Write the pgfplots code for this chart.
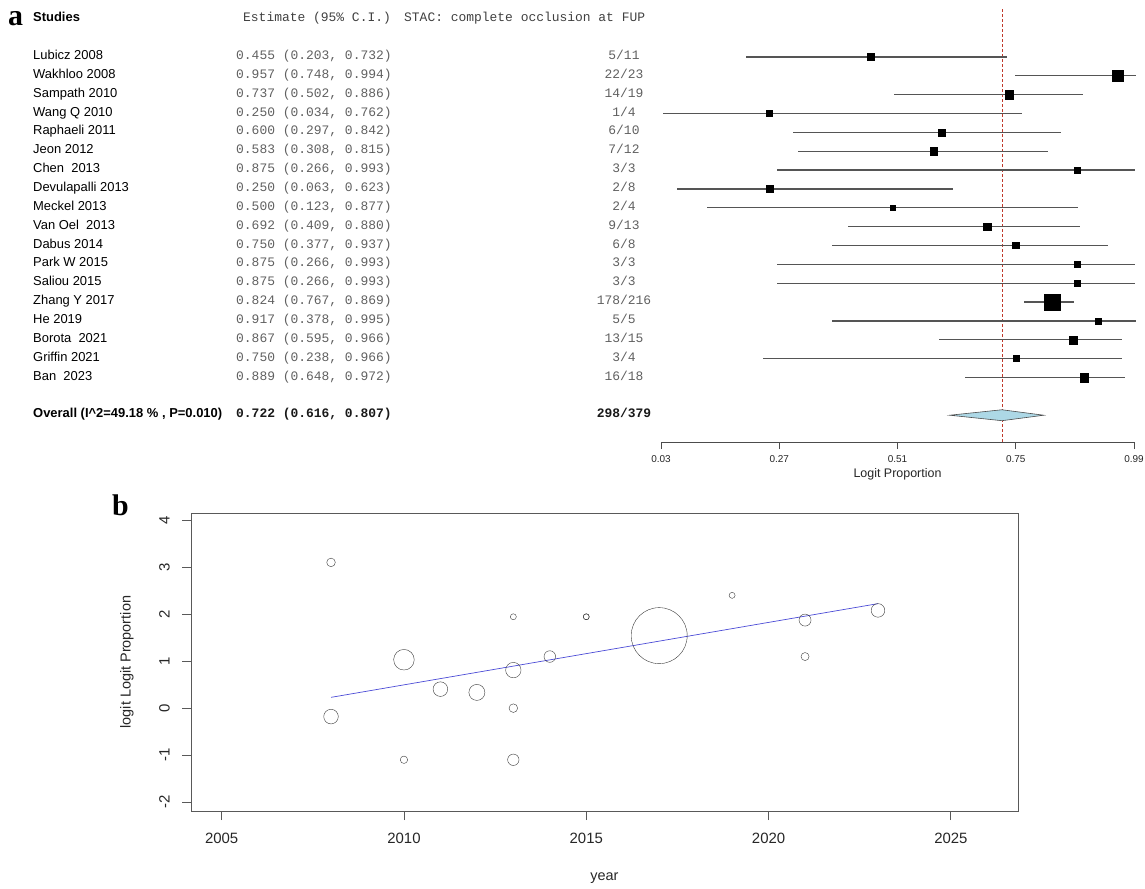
\documentclass[border=0pt]{standalone}
\usepackage{pgfplots}
\pgfplotsset{compat=1.18}
\usepackage{pgfplotstable}
\usepackage{fontspec}
\setmainfont{Liberation Sans}
\newfontfamily\monof{Liberation Mono}
\newfontfamily\seriff{Liberation Serif}
\definecolor{cigray}{HTML}{555555}
\definecolor{txtgray}{HTML}{606060}
\definecolor{refred}{HTML}{C0392B}
\definecolor{diamondblue}{HTML}{ADD8E6}
\definecolor{regblue}{HTML}{4B4BD6}
\definecolor{circgray}{HTML}{3A3A3A}
\newcommand\namefont{\fontsize{13}{15}\selectfont}
\newcommand\estfont{\monof\fontsize{13}{15}\selectfont}

% forest plot: row (negative), estimate, minus, plus, half side of square (bp)
\pgfplotstableread{
row est em ep sz
-1  0.455 0.252 0.277 3.5
-2  0.957 0.209 0.037 5.3
-3  0.737 0.235 0.149 4.3
-4  0.250 0.216 0.512 3.0
-5  0.600 0.303 0.242 3.6
-6  0.583 0.275 0.232 3.7
-7  0.875 0.609 0.118 3.0
-8  0.250 0.187 0.373 3.5
-9  0.500 0.377 0.377 2.8
-10 0.692 0.283 0.188 3.7
-11 0.750 0.373 0.187 3.2
-12 0.875 0.609 0.118 3.0
-13 0.875 0.609 0.118 3.0
-14 0.824 0.057 0.045 7.7
-15 0.917 0.539 0.078 3.2
-16 0.867 0.272 0.099 4.0
-17 0.750 0.512 0.216 3.0
-18 0.889 0.241 0.083 4.3
}\foresttab

% bubble plot: year, logit proportion, radius (bp)
\pgfplotstableread{
year logit r
2008 -0.180 7.3
2008 3.103 4.3
2010 1.031 10.3
2010 -1.099 3.7
2011 0.405 7.3
2012 0.335 8.0
2013 1.946 3.0
2013 -1.099 5.7
2013 0.000 4.3
2013 0.810 7.7
2014 1.099 5.8
2015 1.946 3.0
2015 1.946 3.0
2017 1.544 28.0
2019 2.402 3.0
2021 1.875 6.0
2021 1.099 4.0
2023 2.081 6.8
}\bubbletab

\newcommand\srow[4]{%
  \node[anchor=mid west,inner xsep=0pt,font=\namefont,text=black] at ([xshift=-628bp]axis cs:0.03,-#1) {#2};
  \node[anchor=mid west,inner xsep=0pt,font=\estfont,text=txtgray] at ([xshift=-425bp]axis cs:0.03,-#1) {#3};
  \node[anchor=mid,inner xsep=0pt,font=\estfont,text=txtgray] at ([xshift=-37bp]axis cs:0.03,-#1) {#4};
}

\begin{document}
\begin{tikzpicture}
\path[use as bounding box] (0,0) rectangle (1145bp,-889bp);

% panel labels
\node[anchor=base west,font=\seriff\bfseries\fontsize{30}{32}\selectfont,inner sep=0pt] at (8bp,-25bp) {a};
\node[anchor=base west,font=\seriff\bfseries\fontsize{30}{32}\selectfont,inner sep=0pt] at (112bp,-515bp) {b};

% ---------------- forest plot ----------------
\begin{axis}[
  at={(661bp,-9bp)}, anchor=north west,
  width=473bp, height=433bp, scale only axis,
  xmin=0.03, xmax=0.99, ymin=-21.42, ymax=1.54,
  axis x line=bottom, axis y line=none,
  axis line style={-, draw=black!70, line width=0.8bp},
  xtick={0.03,0.27,0.51,0.75,0.99},
  xticklabels={0.03,0.27,0.51,0.75,0.99},
  ytick=\empty,
  tick align=outside, major tick length=7bp,
  tick style={draw=black!70, line width=0.8bp},
  xticklabel style={font=\fontsize{10}{11}\selectfont, text=black!85, yshift=-3bp},
  clip=false,
]
\addplot[refred, line width=0.8bp, dash pattern=on 3bp off 2bp] coordinates {(0.722,1.54) (0.722,-21.42)};
\addplot[only marks, mark=none,
  error bars/.cd, x dir=both, x explicit, error mark=none,
  error bar style={draw=cigray, line width=1.2bp}]
  table[x=est, y=row, x error minus=em, x error plus=ep] {\foresttab};
\addplot[scatter, only marks, mark=square*,
  scatter/use mapped color={draw=black, fill=black},
  visualization depends on={\thisrow{sz}\as\msz},
  scatter/@pre marker code/.append style={/tikz/mark size=\msz bp, /tikz/line width=0pt}]
  table[x=est, y=row] {\foresttab};
\addplot[fill=diamondblue, draw=black!70, line width=0.6bp]
  coordinates {(0.616,-20) (0.722,-19.71) (0.807,-20) (0.722,-20.29)} -- cycle;

% header
\node[anchor=mid west,inner xsep=0pt,font=\namefont\bfseries] at ([xshift=-628bp]axis cs:0.03,1) {Studies};
\node[anchor=mid west,inner xsep=0pt,font=\estfont,text=black!75] at ([xshift=-418bp]axis cs:0.03,1) {Estimate (95\% C.I.)};
\node[anchor=mid west,inner xsep=0pt,font=\estfont,text=black!75] at ([xshift=-257bp]axis cs:0.03,1) {STAC: complete occlusion at FUP};

\srow{1}{Lubicz 2008}{0.455 (0.203, 0.732)}{5/11}
\srow{2}{Wakhloo 2008}{0.957 (0.748, 0.994)}{22/23}
\srow{3}{Sampath 2010}{0.737 (0.502, 0.886)}{14/19}
\srow{4}{Wang Q 2010}{0.250 (0.034, 0.762)}{1/4}
\srow{5}{Raphaeli 2011}{0.600 (0.297, 0.842)}{6/10}
\srow{6}{Jeon 2012}{0.583 (0.308, 0.815)}{7/12}
\srow{7}{Chen~ 2013}{0.875 (0.266, 0.993)}{3/3}
\srow{8}{Devulapalli 2013}{0.250 (0.063, 0.623)}{2/8}
\srow{9}{Meckel 2013}{0.500 (0.123, 0.877)}{2/4}
\srow{10}{Van Oel~ 2013}{0.692 (0.409, 0.880)}{9/13}
\srow{11}{Dabus 2014}{0.750 (0.377, 0.937)}{6/8}
\srow{12}{Park W 2015}{0.875 (0.266, 0.993)}{3/3}
\srow{13}{Saliou 2015}{0.875 (0.266, 0.993)}{3/3}
\srow{14}{Zhang Y 2017}{0.824 (0.767, 0.869)}{178/216}
\srow{15}{He 2019}{0.917 (0.378, 0.995)}{5/5}
\srow{16}{Borota~ 2021}{0.867 (0.595, 0.966)}{13/15}
\srow{17}{Griffin 2021}{0.750 (0.238, 0.966)}{3/4}
\srow{18}{Ban~ 2023}{0.889 (0.648, 0.972)}{16/18}

\node[anchor=mid west,inner xsep=0pt,font=\namefont\bfseries] at ([xshift=-628bp]axis cs:0.03,-20) {Overall (I\textasciicircum 2=49.18 \% , P=0.010)};
\node[anchor=mid west,inner xsep=0pt,font=\estfont\bfseries,text=black!90] at ([xshift=-425bp]axis cs:0.03,-20) {0.722 (0.616, 0.807)};
\node[anchor=mid,inner xsep=0pt,font=\estfont\bfseries,text=black!90] at ([xshift=-37bp]axis cs:0.03,-20) {298/379};

\node[font=\fontsize{12.5}{14}\selectfont, text=black!85] at ([yshift=-32bp]axis cs:0.51,-21.42) {Logit Proportion};
\end{axis}

% ---------------- bubble plot ----------------
\begin{axis}[
  at={(191bp,-811bp)}, anchor=south west,
  width=827bp, height=298bp, scale only axis,
  xmin=2004.16, xmax=2026.84, ymin=-2.19, ymax=4.155,
  xtick={2005,2010,2015,2020,2025},
  xticklabels={2005,2010,2015,2020,2025},
  ytick={-2,-1,0,1,2,3,4},
  yticklabels={-2,-1,0,1,2,3,4},
  tick pos=left, tick align=outside, major tick length=9bp,
  axis line style={draw=black!65, line width=0.9bp},
  tick style={draw=black!65, line width=0.9bp},
  ticklabel style={font=\fontsize{15}{17}\selectfont, text=black!85},
  xticklabel style={yshift=-10bp},
  yticklabel style={rotate=90, anchor=south, outer sep=9bp},
  clip=false,
]
\addplot[regblue, line width=0.7bp] coordinates {(2008,0.23) (2023,2.225)};
\addplot[scatter, only marks, mark=o,
  scatter/use mapped color={draw=circgray},
  visualization depends on={\thisrow{r}\as\rad},
  scatter/@pre marker code/.append style={/tikz/mark size=\rad bp, /tikz/line width=0.9bp}]
  table[x=year, y=logit] {\bubbletab};
\node[font=\fontsize{14.5}{16}\selectfont, text=black!85, rotate=90] at ([xshift=-64bp]axis cs:2004.16,0.98) {logit Logit Proportion};
\node[font=\fontsize{14.5}{16}\selectfont, text=black!85] at ([yshift=-67bp]axis cs:2015.5,-2.19) {year};
\end{axis}
\end{tikzpicture}
\end{document}
